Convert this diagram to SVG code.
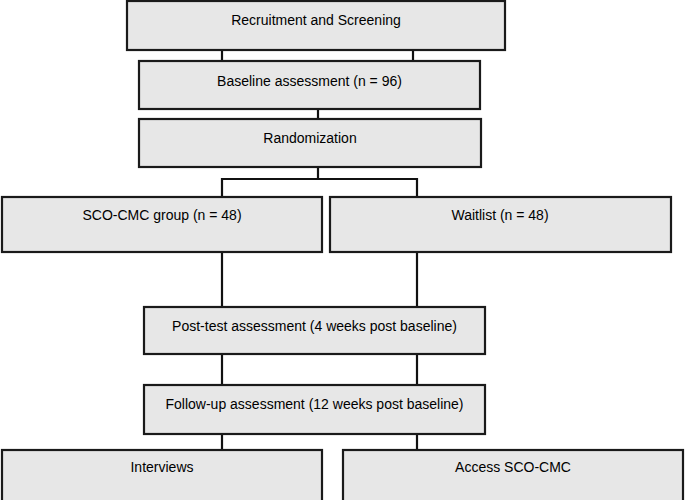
<svg xmlns="http://www.w3.org/2000/svg" width="685" height="500" viewBox="0 0 685 500">
<style>
.box{fill:#e7e7e7;stroke:#1a1a1a;stroke-width:2.2}
.lbl{font-family:"Liberation Sans",Arial,sans-serif;font-size:14px;fill:#000;text-anchor:middle}
.con{fill:none;stroke:#111;stroke-width:2.2}
</style>
<rect width="685" height="500" fill="#fff"/>
<g id="connectors">
<line class="con" x1="222" y1="50" x2="222" y2="61"/>
<line class="con" x1="413" y1="50" x2="413" y2="61"/>
<line class="con" x1="318" y1="109" x2="318" y2="119"/>
<polyline class="con" points="318,167 318,179 222,179 222,197"/>
<polyline class="con" points="318,179 417,179 417,197"/>
<line class="con" x1="222" y1="252" x2="222" y2="307"/>
<line class="con" x1="417" y1="252" x2="417" y2="307"/>
<line class="con" x1="222" y1="354" x2="222" y2="385"/>
<line class="con" x1="417" y1="354" x2="417" y2="385"/>
<line class="con" x1="222" y1="434" x2="222" y2="450"/>
<line class="con" x1="417" y1="434" x2="417" y2="450"/>
</g>
<g id="recruitment"><rect class="box" x="127" y="1" width="378" height="49"/><text class="lbl" x="316" y="25">Recruitment and Screening</text></g>
<g id="baseline"><rect class="box" x="139" y="61" width="341" height="48"/><text class="lbl" x="309.5" y="86">Baseline assessment (n = 96)</text></g>
<g id="randomization"><rect class="box" x="139" y="119" width="342" height="48"/><text class="lbl" x="310" y="143">Randomization</text></g>
<g id="sco-cmc"><rect class="box" x="2" y="197" width="320" height="55"/><text class="lbl" x="162" y="220">SCO-CMC group (n = 48)</text></g>
<g id="waitlist"><rect class="box" x="330" y="197" width="341" height="55"/><text class="lbl" x="500" y="220">Waitlist (n = 48)</text></g>
<g id="posttest"><rect class="box" x="144" y="307" width="341" height="47"/><text class="lbl" x="314.5" y="331">Post-test assessment (4 weeks post baseline)</text></g>
<g id="followup"><rect class="box" x="144" y="385" width="341" height="49"/><text class="lbl" x="314.5" y="409">Follow-up assessment (12 weeks post baseline)</text></g>
<g id="interviews"><rect class="box" x="2" y="450" width="320" height="60"/><text class="lbl" x="162" y="472">Interviews</text></g>
<g id="access"><rect class="box" x="343" y="450" width="340" height="60"/><text class="lbl" x="513" y="472">Access SCO-CMC</text></g>
</svg>
